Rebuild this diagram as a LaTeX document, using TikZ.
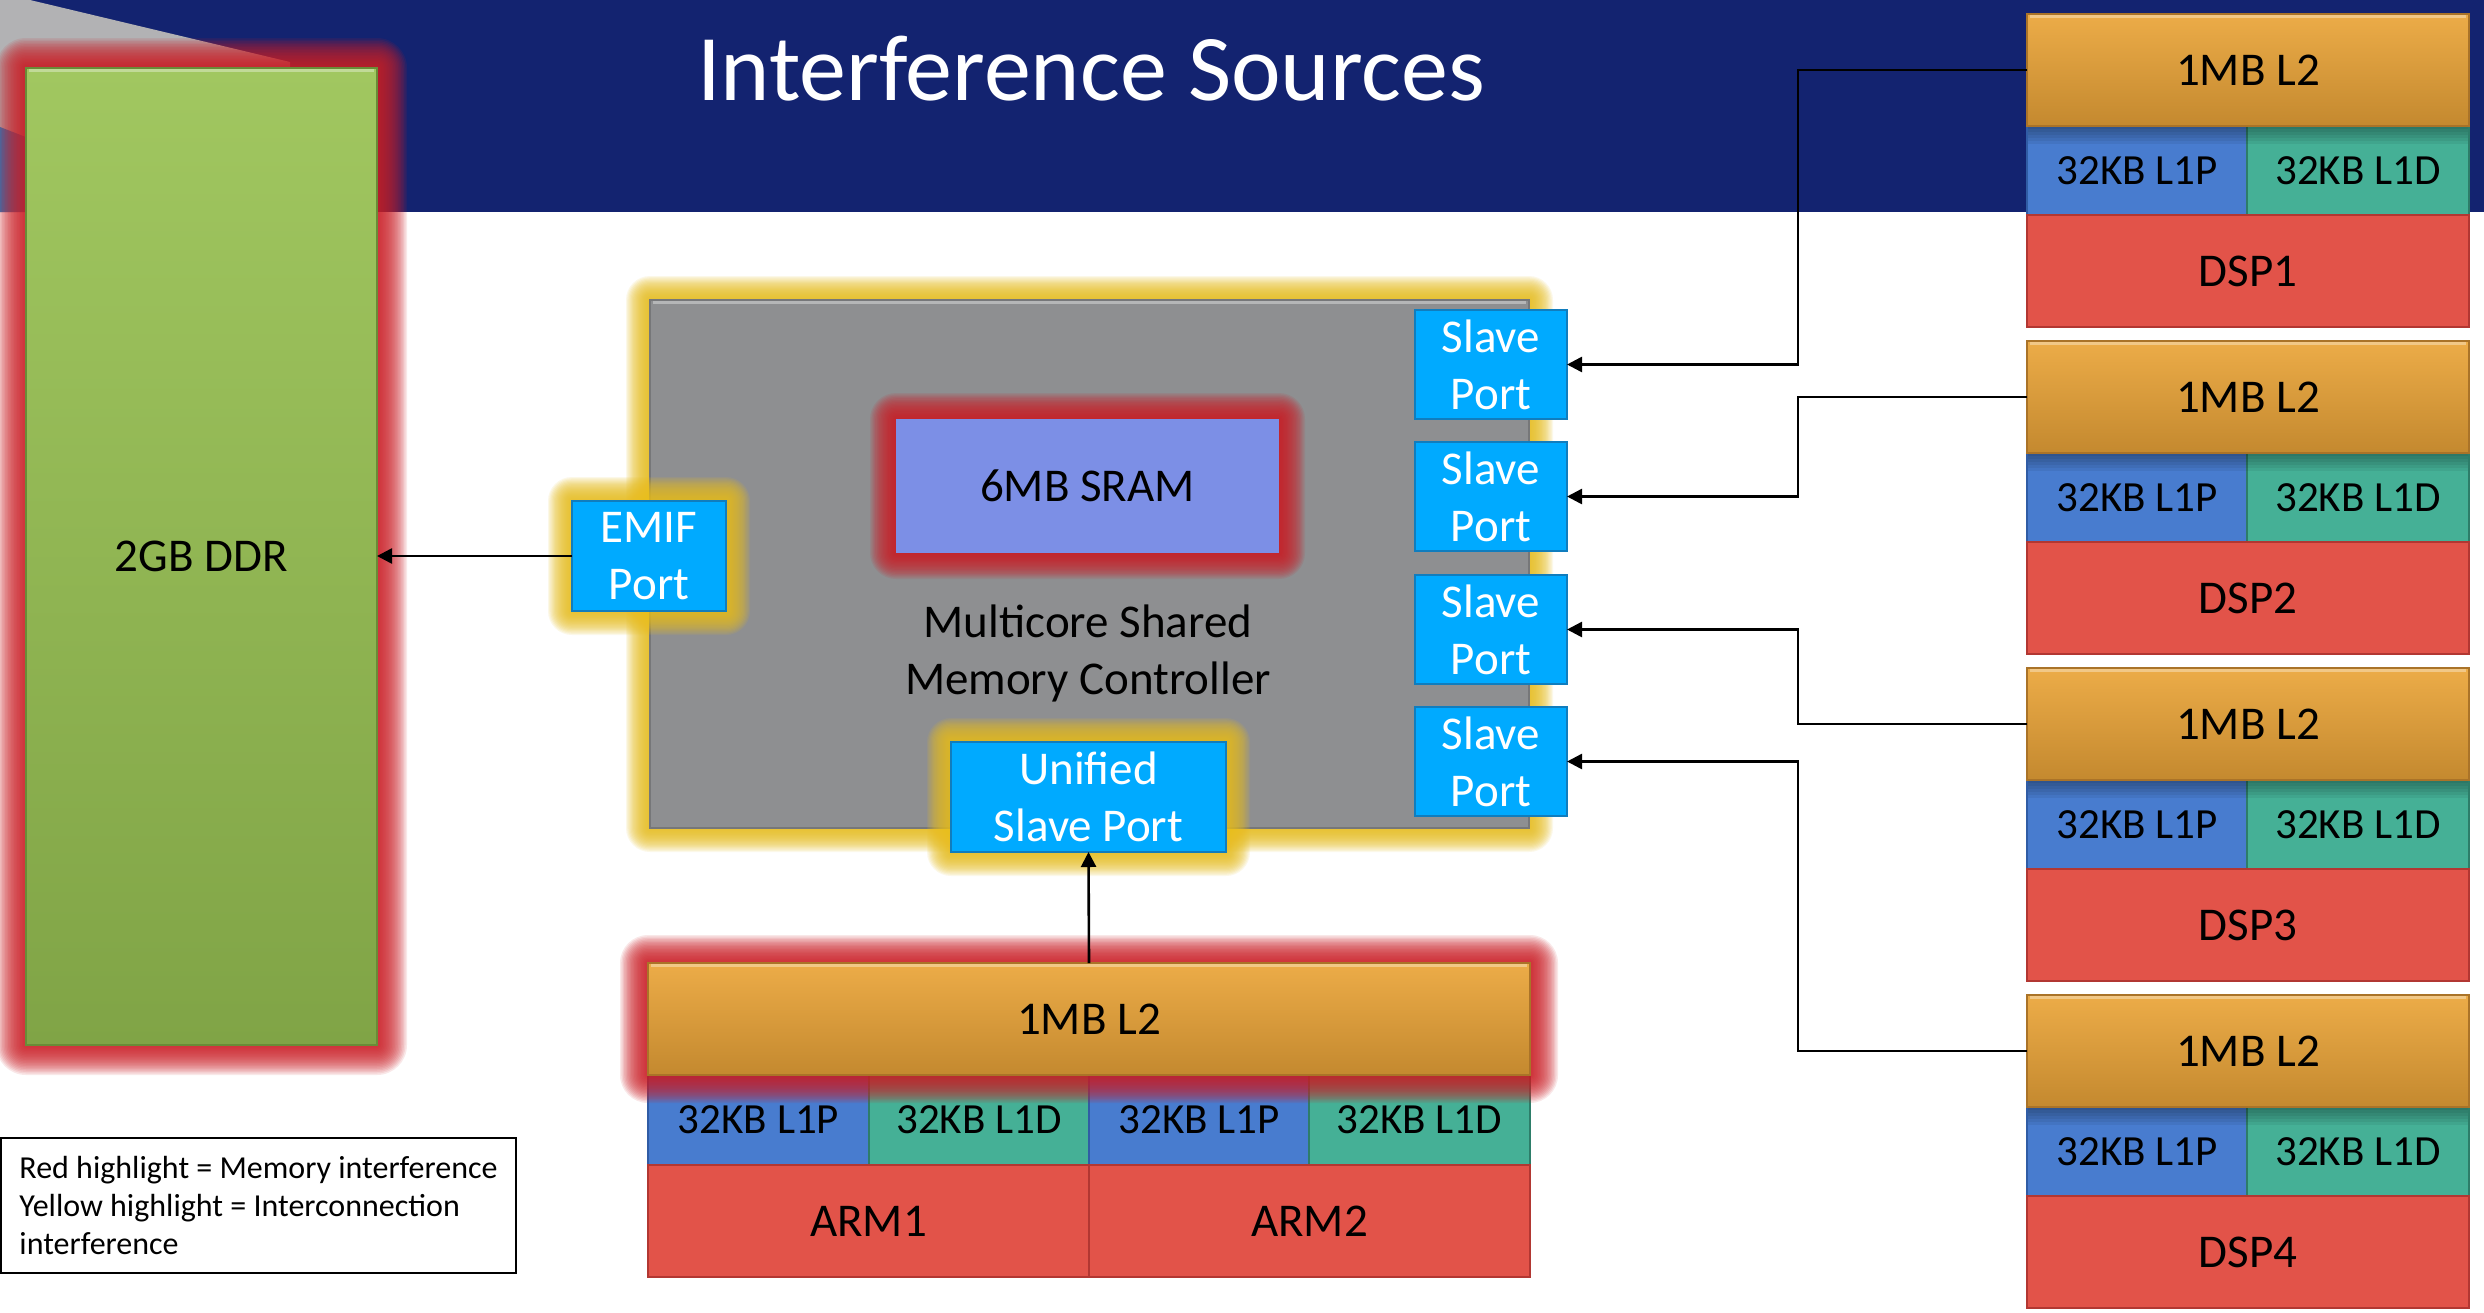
\documentclass[tikz,border=0pt]{standalone}
\usepackage{fontspec}
\setmainfont{Carlito}
\usetikzlibrary{arrows.meta,calc}

\definecolor{navy}{RGB}{19,35,112}
\definecolor{decogrey}{RGB}{178,178,180}
\definecolor{decoblue}{RGB}{30,130,200}
\definecolor{ddrtop}{RGB}{161,199,96}
\definecolor{ddrbot}{RGB}{128,164,70}
\definecolor{ddredge}{RGB}{105,140,55}
\definecolor{msmc}{RGB}{142,143,145}
\definecolor{msmcedge}{RGB}{118,119,121}
\definecolor{sram}{RGB}{124,143,230}
\definecolor{port}{RGB}{0,170,255}
\definecolor{portedge}{RGB}{16,125,190}
\definecolor{ltwotop}{RGB}{236,172,72}
\definecolor{ltwobot}{RGB}{196,137,47}
\definecolor{ltwoedge}{RGB}{170,115,40}
\definecolor{lonep}{RGB}{72,124,207}
\definecolor{lonepedge}{RGB}{48,92,165}
\definecolor{loned}{RGB}{69,176,150}
\definecolor{lonededge}{RGB}{45,125,105}
\definecolor{core}{RGB}{226,83,73}
\definecolor{coreedge}{RGB}{178,55,50}
\definecolor{memglow}{RGB}{205,30,38}
\definecolor{busglow}{RGB}{232,190,30}

% soft halo around a rectangle: colour, x1, y1, x2, y2, reach
\newcommand{\haze}[6]{%
  \foreach \k in {1,...,20}{%
    \pgfmathsetmacro{\hazer}{#6*\k/20}%
    \fill[#1, opacity=0.1, rounded corners=\hazer pt] (#2-\hazer,#3-\hazer) rectangle (#4+\hazer,#5+\hazer);
  }%
}

\tikzset{
  blk/.style={draw, line width=2pt, inner sep=0pt, outer sep=0pt, anchor=north west,
    align=center, font=\fontsize{47}{57}\selectfont},
  ddrbox/.style={blk, draw=ddredge, top color=ddrtop, bottom color=ddrbot},
  msmcbox/.style={blk, draw=msmcedge, fill=msmc},
  srambox/.style={blk, draw=none, fill=sram},
  portbox/.style={blk, draw=portedge, line width=2.5pt, fill=port, text=white},
  ltwobox/.style={blk, draw=ltwoedge, top color=ltwotop, bottom color=ltwobot},
  lpbox/.style={blk, draw=lonepedge, fill=lonep, font=\fontsize{43}{52}\selectfont},
  ldbox/.style={blk, draw=lonededge, fill=loned, font=\fontsize{43}{52}\selectfont},
  corebox/.style={blk, draw=coreedge, line width=2.5pt, fill=core},
  sheen/.style={white, opacity=0.35, line width=3pt},
  wire/.style={line width=2.6pt, -{Triangle[length=15pt,width=15pt]}},
  legendbox/.style={draw=black, line width=2.5pt, anchor=north west, inner xsep=15pt,
    inner ysep=0pt, outer sep=0pt, minimum width=515pt, minimum height=135pt,
    align=left, font=\fontsize{32}{38}\selectfont}
}

\begin{document}
\begin{tikzpicture}[x=1pt,y=-1pt]
\fill[white] (0,0) rectangle (2484,1312);
\useasboundingbox (0,0) rectangle (2484,1312);

% title band
\fill[navy] (0,0) rectangle (2484,212);
\fill[decogrey] (0,0) -- (30,0) -- (290,62) -- (290,212) -- (0,212) -- cycle;
\fill[decoblue] (0,127) -- (220,212) -- (0,212) -- cycle;
\node[font=\fontsize{94}{112}\selectfont, text=white, anchor=base, inner sep=0pt] (title) at (1091,100) {Interference Sources};

% external memory
\haze{memglow}{26}{68}{377}{1045}{30}
\node[ddrbox, minimum width=351pt, minimum height=977pt] (ddr) at (26,68) {2GB DDR};
\draw[sheen] ([shift={(3pt,-2pt)}]ddr.north west) -- ([shift={(-3pt,-2pt)}]ddr.north east);

% shared memory controller
\haze{busglow}{650}{300}{1529}{828}{24}
\node[msmcbox, minimum width=879pt, minimum height=528pt] (msmc) at (650,300) {};
\draw[sheen] ([shift={(3pt,-2pt)}]msmc.north west) -- ([shift={(-3pt,-2pt)}]msmc.north east);
\haze{memglow}{896}{419}{1279}{553}{26}
\node[srambox, minimum width=383pt, minimum height=134pt] (sram) at (896,419) {6MB SRAM};
\node[font=\fontsize{47}{57}\selectfont, align=center, inner sep=0pt] (msmclabel) at (1088,653) {Multicore Shared\\Memory Controller};

\haze{busglow}{572}{501}{726}{611}{24}
\node[portbox, minimum width=154pt, minimum height=110pt] (emif) at (572,501) {EMIF\\Port};
\haze{busglow}{951}{742}{1226}{852}{24}
\node[portbox, minimum width=275pt, minimum height=110pt] (usp) at (951,742) {Unified\\Slave Port};

\foreach \i/\t in {1/310,2/442,3/575,4/707}
  \node[portbox, minimum width=152pt, minimum height=109pt] (sp\i) at (1415,\t) {Slave\\Port};

% ARM cluster
\node[lpbox, minimum width=221pt, minimum height=90pt] (al1p1) at (648,1075) {32KB L1P};
\node[ldbox, minimum width=220pt, minimum height=90pt] (al1d1) at (869,1075) {32KB L1D};
\node[lpbox, minimum width=220pt, minimum height=90pt] (al1p2) at (1089,1075) {32KB L1P};
\node[ldbox, minimum width=221pt, minimum height=90pt] (al1d2) at (1309,1075) {32KB L1D};
\node[corebox, minimum width=441pt, minimum height=112pt] (arm1) at (648,1165) {ARM1};
\node[corebox, minimum width=441pt, minimum height=112pt] (arm2) at (1089,1165) {ARM2};
\haze{memglow}{648}{963}{1530}{1075}{28}
\node[ltwobox, minimum width=882pt, minimum height=112pt] (arml2) at (648,963) {1MB L2};
\draw[sheen] ([shift={(3pt,-2pt)}]arml2.north west) -- ([shift={(-3pt,-2pt)}]arml2.north east);

% DSP cores
\foreach \i in {1,...,4}{
  \pgfmathsetmacro{\dtop}{14+(\i-1)*327}
  \node[lpbox, minimum width=220pt, minimum height=89pt] (dl1p\i) at (2027,\dtop+112) {32KB L1P};
  \node[ldbox, minimum width=222pt, minimum height=89pt] (dl1d\i) at (2247,\dtop+112) {32KB L1D};
  \foreach \s in {1,...,6}
    \fill[black, opacity=0.06] (2028,\dtop+112) rectangle (2468,\dtop+112+3*\s);
  \node[corebox, minimum width=442pt, minimum height=112pt] (dsp\i) at (2027,\dtop+201) {DSP\i};
  \node[ltwobox, minimum width=442pt, minimum height=112pt] (dl2\i) at (2027,\dtop) {1MB L2};
  \draw[sheen] ([shift={(3pt,-2pt)}]dl2\i.north west) -- ([shift={(-3pt,-2pt)}]dl2\i.north east);
}

% connectors
\foreach \i in {1,...,4}
  \draw[wire] (dl2\i.west) -- ++(-229,0) |- (sp\i.east);
\draw[wire] (emif.west) -- (emif.west -| ddr.east);
\draw[wire] (arml2.north) -- (usp.south);

% legend
\node[legendbox] (legend) at (1,1138) {Red highlight = Memory interference\\Yellow highlight = Interconnection\\interference};
\end{tikzpicture}
\end{document}
